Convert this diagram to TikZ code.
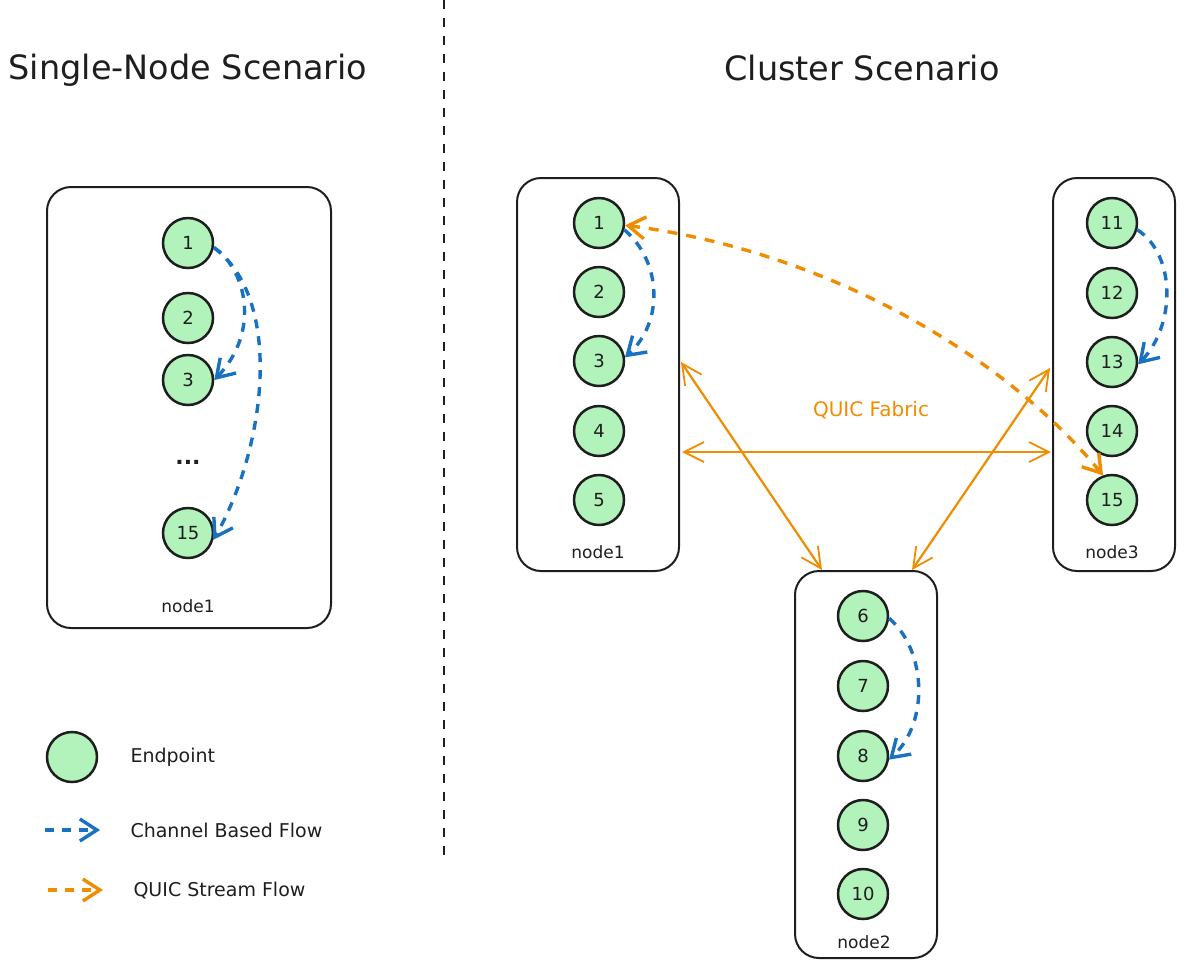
\documentclass[tikz,border=0pt]{standalone}
\usepackage{fontspec}
\setmainfont{DejaVu Sans}
\usetikzlibrary{arrows.meta}
\definecolor{ink}{HTML}{1E1E1E}
\definecolor{epfill}{HTML}{B2F2BB}
\definecolor{flowblue}{HTML}{1971C2}
\definecolor{quic}{HTML}{F08C00}
\begin{document}
\begin{tikzpicture}[x=1pt,y=-1pt,
  ep/.style={circle,draw=ink,fill=epfill,line width=2.5pt,minimum size=50pt,inner sep=0pt,text=ink,font=\fontsize{18}{18}\selectfont},
  hostbox/.style={draw=ink,line width=2pt,rounded corners=24pt,inner sep=0pt},
  hostlabel/.style={font=\fontsize{17}{17}\selectfont,text=ink},
  titletext/.style={font=\fontsize{33.5}{33.5}\selectfont,text=ink},
  legendtext/.style={font=\fontsize{19}{19}\selectfont,text=ink,anchor=west},
  chflow/.style={draw=flowblue,line width=3.4pt,dash pattern=on 9pt off 8pt,-{Straight Barb[length=17pt,width=22pt,line width=3.4pt]}},
  qsflow/.style={draw=quic,line width=3.4pt,dash pattern=on 10pt off 9pt,{Straight Barb[length=17pt,width=22pt,line width=3.4pt]}-{Straight Barb[length=17pt,width=22pt,line width=3.4pt]}},
  qlegend/.style={draw=quic,line width=3.4pt,dash pattern=on 9pt off 8pt,-{Straight Barb[length=17pt,width=22pt,line width=3.4pt]}},
  fabric/.style={draw=quic,line width=2.2pt,{Straight Barb[length=20pt,width=20pt,line width=1.8pt]}-{Straight Barb[length=20pt,width=20pt,line width=1.8pt]}}
]
\useasboundingbox (0,0) rectangle (1185,970);

% separator
\coordinate (septop) at (444,0);
\coordinate (sepbot) at (444,860);
\draw[ink,line width=2pt,dash pattern=on 9pt off 9pt] (septop) -- (sepbot);

% titles
\node[titletext] (t1) at (188,70) {Single-Node Scenario};
\node[titletext] (t2) at (862,68) {Cluster Scenario};

% ---------- single node ----------
\node[hostbox,minimum width=284pt,minimum height=441pt] (sbox) at (189,407.5) {};
\node[hostlabel] (slab) at (188,606) {node1};
\node[ep] (s1) at (188,243) {1};
\node[ep] (s2) at (188,318) {2};
\node[ep] (s3) at (188,380) {3};
\node[font=\bfseries\fontsize{22}{22}\selectfont,text=ink] (sdots) at (188,462) {...};
\node[ep] (s15) at (188,533) {15};

\draw[chflow] (s1.-10) .. controls (245,268) and (262,330) .. (s3.east);
\draw[chflow] (s1.-10) .. controls (285,300) and (265,450) .. (s15.-15);

% ---------- cluster ----------
\node[hostbox,minimum width=162pt,minimum height=393pt] (c1box) at (598,374.5) {};
\node[hostlabel] (c1lab) at (598,552) {node1};
\node[ep] (c1) at (599,223) {1};
\node[ep] (c2) at (599,292) {2};
\node[ep] (c3) at (599,361) {3};
\node[ep] (c4) at (599,431) {4};
\node[ep] (c5) at (599,500) {5};

\node[hostbox,minimum width=122pt,minimum height=393pt] (c3box) at (1114,374.5) {};
\node[hostlabel] (c3lab) at (1112,552) {node3};
\node[ep] (c11) at (1112,223) {11};
\node[ep] (c12) at (1112,293) {12};
\node[ep] (c13) at (1112,362) {13};
\node[ep] (c14) at (1112,431) {14};
\node[ep] (c15) at (1112,500) {15};

\node[hostbox,minimum width=142pt,minimum height=387pt] (c2box) at (866,764.5) {};
\node[hostlabel] (c2lab) at (864,942) {node2};
\node[ep] (c6) at (863,616) {6};
\node[ep] (c7) at (863,686) {7};
\node[ep] (c8) at (863,756) {8};
\node[ep] (c9) at (863,825) {9};
\node[ep] (c10) at (863,894) {10};

% fabric links
\draw[fabric] ([yshift=12.5pt,xshift=1pt]c1box.east) -- ([xshift=-44pt]c2box.north);
\draw[fabric] ([yshift=-77.5pt,xshift=2pt]c1box.east) -- ([yshift=-77.5pt,xshift=-1pt]c3box.west);
\draw[fabric] ([yshift=6.5pt,xshift=-2pt]c3box.west) -- ([xshift=46pt]c2box.north);
\node[font=\fontsize{20}{20}\selectfont,text=quic] (fab) at (871,410) {QUIC Fabric};

% channel flows
\draw[chflow] (c1.-15) .. controls (662,262) and (664,322) .. (c3.8);
\draw[chflow] (c11.-15) .. controls (1176,255) and (1176,325) .. (c13.-5);
\draw[chflow] (c6.-5) .. controls (926,650) and (930,722) .. (c8.-8);

% QUIC stream
\draw[qsflow] (c1.-5) .. controls (820,250) and (1000,350) .. (c15.110);

% ---------- legend ----------
\node[ep,minimum size=50pt] (lep) at (72,757) {};
\node[legendtext] (lt1) at (127,757) {Endpoint};
\coordinate (lb1) at (45,830);
\coordinate (lb2) at (100,830);
\draw[chflow] (lb1) -- (lb2);
\node[legendtext] (lt2) at (127,830) {Channel Based Flow};
\coordinate (lo1) at (48,890);
\coordinate (lo2) at (103,890);
\draw[qlegend] (lo1) -- (lo2);
\node[legendtext] (lt3) at (130,890) {QUIC Stream Flow};
\end{tikzpicture}
\end{document}
